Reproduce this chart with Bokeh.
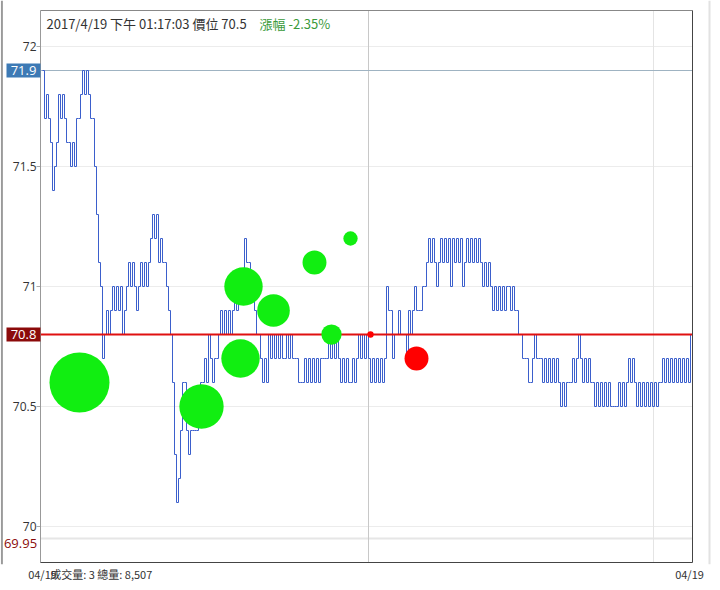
from bokeh.plotting import figure
from bokeh.models import Range1d, FixedTicker, ColumnDataSource
from bokeh.core.properties import value
from bokeh.embed import file_html
from bokeh.resources import INLINE

# ---- data ----
price = [
    71.9, 71.7, 71.8, 71.7, 71.6, 71.4, 71.5, 71.6, 71.8, 71.7,
    71.8, 71.7, 71.6, 71.6, 71.5, 71.6, 71.5, 71.7, 71.7, 71.8,
    71.9, 71.8, 71.9, 71.8, 71.7, 71.7, 71.5, 71.3, 71.1, 71.0,
    70.7, 70.8, 70.9, 70.8, 70.9, 71.0, 70.9, 71.0, 70.9, 71.0,
    70.8, 70.9, 71.0, 71.1, 71.0, 71.1, 71.0, 70.9, 71.0, 71.1,
    71.0, 71.1, 71.0, 71.1, 71.2, 71.3, 71.2, 71.3, 71.1, 71.2,
    71.1, 71.1, 71.0, 70.9, 70.8, 70.6, 70.3, 70.1, 70.2, 70.4,
    70.6, 70.6, 70.4, 70.3, 70.4, 70.4, 70.4, 70.4, 70.5, 70.6,
    70.6, 70.7, 70.6, 70.8, 70.7, 70.6, 70.7, 70.7, 70.8, 70.9,
    70.8, 70.9, 70.8, 70.9, 70.8, 70.9, 71.0, 70.9, 71.0, 71.0,
    71.0, 71.2, 71.1, 71.1, 71.0, 71.0, 70.9, 70.8, 70.8, 70.7,
    70.6, 70.7, 70.6, 70.8, 70.7, 70.8, 70.7, 70.8, 70.7, 70.8,
    70.7, 70.7, 70.8, 70.7, 70.8, 70.7, 70.7, 70.7, 70.6, 70.6,
    70.6, 70.7, 70.6, 70.7, 70.6, 70.7, 70.6, 70.7, 70.6, 70.7,
    70.7, 70.7, 70.7, 70.8, 70.7, 70.8, 70.7, 70.8, 70.7, 70.6,
    70.7, 70.6, 70.7, 70.6, 70.6, 70.7, 70.6, 70.7, 70.8, 70.7,
    70.8, 70.7, 70.8, 70.7, 70.6, 70.7, 70.6, 70.7, 70.6, 70.7,
    70.6, 70.7, 71.0, 70.9, 70.9, 70.7, 70.8, 70.8, 70.9, 70.8,
    70.8, 70.8, 70.7, 70.9, 70.8, 70.9, 71.0, 70.9, 70.9, 70.9,
    71.0, 71.0, 71.1, 71.2, 71.1, 71.2, 71.1, 71.0, 71.1, 71.2,
    71.1, 71.2, 71.1, 71.2, 71.0, 71.2, 71.1, 71.2, 71.1, 71.2,
    71.0, 71.1, 71.2, 71.1, 71.2, 71.1, 71.2, 71.1, 71.2, 71.1,
    71.0, 71.1, 71.0, 71.1, 71.0, 70.9, 71.0, 70.9, 71.0, 70.9,
    71.0, 70.9, 71.0, 71.0, 70.9, 71.0, 70.9, 70.9, 70.8, 70.8,
    70.7, 70.7, 70.7, 70.6, 70.6, 70.7, 70.8, 70.7, 70.7, 70.7,
    70.6, 70.7, 70.6, 70.7, 70.6, 70.7, 70.6, 70.7, 70.6, 70.5,
    70.6, 70.5, 70.6, 70.6, 70.6, 70.7, 70.6, 70.7, 70.8, 70.7,
    70.6, 70.7, 70.6, 70.7, 70.6, 70.6, 70.5, 70.6, 70.5, 70.6,
    70.5, 70.6, 70.5, 70.6, 70.5, 70.5, 70.5, 70.5, 70.6, 70.5,
    70.6, 70.5, 70.6, 70.7, 70.6, 70.7, 70.6, 70.5, 70.6, 70.5,
    70.6, 70.5, 70.6, 70.5, 70.6, 70.5, 70.6, 70.5, 70.6, 70.6,
    70.7, 70.6, 70.7, 70.6, 70.7, 70.6, 70.7, 70.6, 70.7, 70.6,
    70.7, 70.6, 70.7, 70.6, 70.8, 70.8,
]
tick_index = list(range(len(price)))

bubble_x = [18.5, 79.5, 100.5, 99, 115.5, 136, 154, 144.5, 164, 187]
bubble_price = [70.6, 70.5, 71.0, 70.7, 70.9, 71.1, 71.2, 70.8, 70.8, 70.7]
bubble_volume = [88, 48, 36, 36, 26, 14, 5, 10, 1, 14]
bubble_side = ["sell"] * 8 + ["buy", "buy"]

y_ticks = [70, 70.5, 71, 71.5, 72]
y_tick_labels = ["70", "70.5", "71", "71.5", "72"]
high_price = 71.9
ref_price = 70.8
low_limit = 69.95
session_marks = [163, 305.5]
date_ticks = [0, 30, 323.5]
date_labels = ["04/19", "成交量: 3  總量: 8,507", "04/19"]

header_text = "2017/4/19 下午 01:17:03  價位 70.5"
change_text = "漲幅 -2.35%"

# chart box extents (data units)
X0, X1 = -1, 325
Y0, Y1 = 69.85, 72.15
LABEL_X = -9.5
TICK_TXT_X = -3

# ---- figure ----
p = figure(frame_width=712, frame_height=564, output_backend="svg", toolbar_location=None,
           x_range=Range1d(-21, 335), y_range=Range1d(69.8417, 72.1917),
           y_axis_location=None,
           min_border_left=0, min_border_right=0, min_border_top=0,
           min_border_bottom=0)
p.background_fill_color = "white"
p.border_fill_color = "white"
p.outline_line_color = None
p.xgrid.visible = False
p.ygrid.visible = False

p.xaxis.ticker = FixedTicker(ticks=date_ticks)
p.xaxis.major_label_overrides = {t: s for t, s in zip(date_ticks, date_labels)}
p.xaxis.axis_line_color = None
p.xaxis.major_tick_line_color = None
p.xaxis.minor_tick_line_color = None
p.xaxis.major_tick_out = 0
p.xaxis.major_label_standoff = 1
p.xaxis.major_label_text_font = "Noto Sans CJK TC"
p.xaxis.major_label_text_font_size = "11px"
p.xaxis.major_label_text_color = "#333333"

# window edges outside the chart box
p.segment(x0=[-20.3, 333.5], y0=[69.8417, 69.8417], x1=[-20.3, 333.5], y1=[72.1917, 72.1917],
          line_color=["#9a9a9a", "#e2e2e2"], line_width=[2, 2])

# horizontal grid lines at the price ticks
p.segment(x0=[X0] * len(y_ticks), y0=y_ticks, x1=[X1] * len(y_ticks), y1=y_ticks,
          line_color="#ececec", line_width=1)
p.segment(x0=[X0], y0=[low_limit], x1=[X1], y1=[low_limit], line_color="#e6e6e6", line_width=2)
# tick marks
p.segment(x0=[X0 - 2] * len(y_ticks), y0=y_ticks, x1=[X0] * len(y_ticks), y1=y_ticks,
          line_color="#aaaaaa", line_width=1)
# session markers
p.segment(x0=[session_marks[0]], y0=[Y0], x1=[session_marks[0]], y1=[Y1],
          line_color="#c8c8c8", line_width=1)
p.segment(x0=[session_marks[1]], y0=[Y0], x1=[session_marks[1]], y1=[Y1],
          line_color="#e4e4e4", line_width=1)
# day high line
p.segment(x0=[X0], y0=[high_price], x1=[X1], y1=[high_price], line_color="#9fb3c2", line_width=1)

# price line
p.step(tick_index, price, mode="after", line_color="#3b5fcc", line_width=1)

# reference price line
p.segment(x0=[X0], y0=[ref_price], x1=[X1], y1=[ref_price], line_color="#e01010", line_width=2)

# bubbles
colors = ["#11ee11" if s == "sell" else "#ff0000" for s in bubble_side]
sizes = [2 * 3.2 * (v ** 0.5) for v in bubble_volume]
src = ColumnDataSource(dict(x=bubble_x, y=bubble_price, size=sizes, color=colors))
p.scatter("x", "y", size="size", fill_color="color", line_color=None, source=src)

# chart box border
p.segment(x0=[X0], y0=[Y0], x1=[X0], y1=[Y1], line_color="#999999", line_width=1)
p.segment(x0=[X0], y0=[Y1], x1=[X1], y1=[Y1], line_color="#888888", line_width=1)
p.segment(x0=[X1], y0=[Y0], x1=[X1], y1=[Y1], line_color="#444444", line_width=1)
p.segment(x0=[X0], y0=[Y0], x1=[X1], y1=[Y0], line_color="#444444", line_width=1)

# price tick labels
p.text(x=[TICK_TXT_X] * len(y_ticks), y=y_ticks, text=y_tick_labels,
       text_align="right", text_baseline="middle", text_color="#333333",
       text_font=value("Open Sans"), text_font_size="12px")

# boxed price labels
p.rect(x=[LABEL_X, LABEL_X], y=[high_price, ref_price], width=17, height=0.058,
       fill_color=["#3d7ab5", "#8b0a0a"], line_color=None)
p.text(x=[LABEL_X, LABEL_X], y=[high_price, ref_price],
       text=[f"{high_price}", f"{ref_price}"],
       text_align="center", text_baseline="middle", text_color="white",
       text_font=value("Open Sans"), text_font_size="13px")
p.text(x=[-11], y=[low_limit], text=[f"{low_limit}"], y_offset=5,
       text_align="center", text_baseline="middle", text_color="#8b0a0a",
       text_font=value("Open Sans"), text_font_size="13px")

# header
p.text(x=[2], y=[72.096], text=[header_text], text_baseline="middle",
       text_color="#333333", text_font=value("Noto Sans CJK TC"), text_font_size="13px")
p.text(x=[108.5], y=[72.096], text=[change_text], text_baseline="middle",
       text_color="#3a9a3a", text_font=value("Noto Sans CJK TC"), text_font_size="13px")

open("out.html", "w").write(file_html(p, INLINE))
